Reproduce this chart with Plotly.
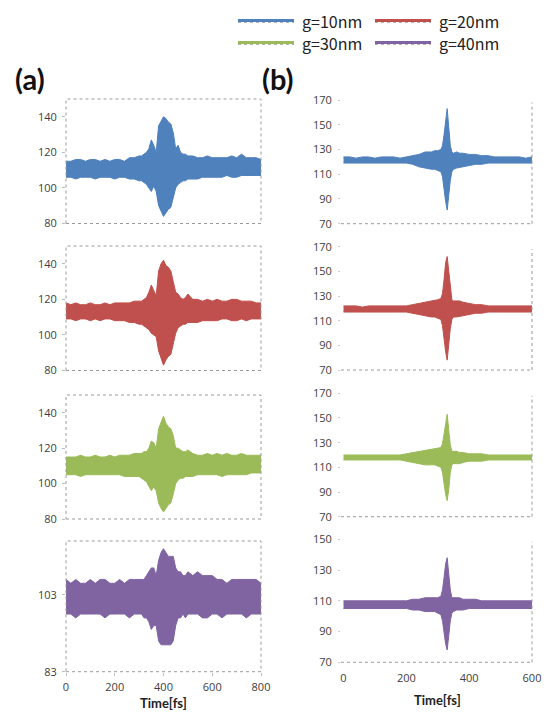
import plotly.graph_objects as go

# ---------------- data (envelopes) ----------------
labels = ["g=10nm", "g=20nm", "g=30nm", "g=40nm"]
colors = ["#4F81BD", "#C0504D", "#9BBB59", "#8064A2"]

# (a) time axis [fs]
t_a = [0, 20, 40, 60, 80, 100, 120, 140, 160, 180, 200, 220, 240, 260, 280, 300,
       310, 320, 330, 340, 350, 360, 370, 380, 390, 400, 410, 420, 430, 440, 450, 460, 470, 480, 490, 500,
       520, 540, 560, 580, 600, 620, 640, 660, 680, 700, 720, 740, 760, 780, 800]

a1_up = [115, 115, 116, 116, 115, 116, 116, 115, 116, 115, 116, 116, 115, 117, 117, 118,
         118, 119, 120, 122, 127, 124, 120, 135, 138, 140, 139, 137, 136, 131, 122, 124, 120, 119, 119, 118,
         118, 117, 117, 118, 117, 117, 117, 117, 118, 117, 119, 117, 117, 117, 116]
a1_lo = [106, 106, 105, 106, 106, 106, 105, 106, 106, 106, 105, 106, 106, 105, 105, 104,
         104, 103, 102, 100, 98, 101, 98, 90, 87, 84, 86, 88, 89, 95, 100, 102, 103, 104, 104, 105,
         105, 105, 106, 106, 106, 106, 106, 107, 106, 106, 107, 107, 107, 107, 107]

a2_up = [118, 117, 118, 117, 117, 118, 117, 117, 118, 117, 118, 118, 118, 118, 119, 119,
         119, 120, 121, 124, 128, 125, 122, 136, 140, 142, 139, 138, 136, 130, 124, 123, 121, 120, 121, 123,
         120, 120, 119, 120, 119, 120, 119, 119, 120, 120, 119, 119, 119, 118, 118]
a2_lo = [109, 109, 108, 109, 109, 108, 109, 108, 109, 109, 108, 108, 108, 107, 107, 106,
         106, 105, 104, 103, 101, 100, 99, 91, 87, 83, 86, 88, 89, 95, 101, 104, 105, 106, 106, 107,
         107, 107, 108, 108, 108, 108, 109, 109, 108, 108, 109, 108, 109, 109, 109]

a3_up = [115, 115, 115, 116, 115, 115, 116, 115, 115, 116, 115, 116, 116, 116, 117, 117,
         117, 118, 118, 120, 124, 123, 120, 131, 135, 138, 134, 132, 131, 127, 120, 120, 119, 118, 118, 119,
         117, 116, 116, 117, 116, 117, 116, 117, 116, 116, 117, 116, 116, 116, 116]
a3_lo = [105, 105, 105, 104, 105, 105, 105, 105, 105, 105, 105, 105, 104, 104, 104, 104,
         103, 102, 101, 99, 96, 98, 96, 89, 86, 84, 86, 88, 89, 94, 100, 102, 103, 103, 104, 104,
         104, 105, 105, 105, 105, 105, 104, 105, 105, 105, 105, 105, 106, 106, 106]

a4_up = [107, 106, 107, 106, 106, 107, 106, 107, 107, 106, 106, 107, 106, 107, 107, 107,
         107, 107, 108, 109, 110, 110, 108, 112, 114, 115, 114, 113, 113, 113, 110, 109, 109, 108, 108, 109,
         108, 109, 108, 108, 108, 107, 107, 106, 107, 107, 107, 107, 107, 107, 106]
a4_lo = [98, 98, 97, 98, 98, 98, 98, 98, 97, 98, 98, 98, 98, 97, 98, 98,
         98, 97, 97, 96, 94, 95, 95, 91, 90, 90, 90, 90, 90, 91, 95, 97, 97, 98, 97, 98,
         98, 98, 97, 97, 98, 98, 97, 98, 98, 98, 98, 97, 98, 98, 98]

# (b) time axis [fs]
t_b = [0, 20, 40, 60, 80, 100, 120, 140, 160, 180, 200, 220, 240, 260, 280,
       290, 300, 310, 315, 320, 325, 330, 335, 340, 345, 350, 360, 370, 380,
       400, 420, 440, 460, 480, 500, 520, 540, 560, 580, 600]

b1_up = [124, 124, 123, 124, 124, 123, 124, 124, 124, 123, 124, 125, 126, 128, 128,
         129, 129, 130, 133, 142, 155, 163, 148, 133, 128, 127, 128, 127, 127,
         126, 126, 125, 125, 124, 124, 124, 124, 124, 123, 124]
b1_lo = [119, 119, 119, 119, 119, 119, 119, 119, 119, 119, 119, 118, 116, 115, 114,
         114, 113, 112, 108, 100, 88, 81, 90, 105, 112, 114, 115, 116, 116,
         117, 118, 118, 119, 119, 119, 119, 119, 119, 119, 119]

b2_up = [122, 122, 122, 121, 122, 122, 122, 122, 122, 122, 122, 123, 124, 125, 126,
         126, 127, 128, 132, 143, 157, 162, 150, 134, 127, 126, 126, 126, 125,
         124, 123, 123, 122, 122, 122, 122, 122, 122, 122, 122]
b2_lo = [117, 117, 117, 117, 117, 117, 117, 117, 117, 117, 117, 116, 115, 114, 113,
         113, 112, 111, 106, 97, 85, 78, 88, 104, 111, 113, 113, 113, 114,
         115, 116, 116, 117, 117, 117, 117, 117, 117, 117, 117]

b3_up = [120, 120, 120, 120, 120, 120, 120, 120, 120, 120, 121, 122, 123, 124, 125,
         125, 126, 126, 129, 138, 148, 153, 140, 128, 123, 123, 123, 122, 122,
         121, 121, 121, 120, 120, 120, 120, 120, 120, 120, 120]
b3_lo = [116, 116, 116, 116, 116, 116, 116, 116, 116, 116, 115, 114, 113, 112, 112,
         112, 111, 110, 106, 97, 88, 83, 92, 106, 112, 113, 113, 113, 114,
         115, 115, 115, 116, 116, 116, 116, 116, 116, 116, 116]

b4_up = [110, 110, 110, 110, 110, 110, 110, 110, 110, 110, 110, 111, 111, 112, 112,
         112, 112, 113, 117, 125, 134, 138, 128, 117, 112, 112, 112, 112, 111,
         111, 111, 110, 110, 110, 110, 110, 110, 110, 110, 110]
b4_lo = [105, 105, 105, 105, 105, 105, 105, 105, 105, 105, 105, 104, 104, 103, 103,
         103, 102, 101, 97, 90, 82, 78, 86, 97, 102, 103, 104, 104, 104,
         105, 105, 105, 105, 105, 105, 105, 105, 105, 105, 105]

a_ticks = [[80, 100, 120, 140], [80, 100, 120, 140], [80, 100, 120, 140], [83, 103]]
a_ranges = [[80, 150], [80, 150], [80, 150], [83, 117]]
b_ticks = [[70, 90, 110, 130, 150, 170]] * 3 + [[70, 90, 110, 130, 150]]
b_ranges = [[70, 170], [70, 170], [70, 170], [70, 150]]
xa_ticks = [0, 200, 400, 600, 800]
xb_ticks = [0, 200, 400, 600]

# ---------------- layout geometry ----------------
W, H = 551, 716
def yd(top, bot):
    return [1 - bot / H, 1 - top / H]

a_dom_y = [yd(99, 223.5), yd(246, 370.5), yd(395, 519), yd(541, 671.7)]
b_dom_y = [yd(100, 223.7), yd(246.7, 370), yd(393.3, 516.7), yd(539.3, 662.3)]
a_dom_x = [66 / W, 261 / W]
b_dom_x = [341 / W, 532 / W]

a_data = [(a1_up, a1_lo), (a2_up, a2_lo), (a3_up, a3_lo), (a4_up, a4_lo)]
b_data = [(b1_up, b1_lo), (b2_up, b2_lo), (b3_up, b3_lo), (b4_up, b4_lo)]

fig = go.Figure()
tickfont = dict(family="Open Sans", size=11, color="#404040")
dotc = "#9a9a9a"
shapes = []

def add_band(t, up, lo, color, sfx):
    xs = list(t) + list(t)[::-1]
    ys = list(up) + list(lo)[::-1]
    fig.add_trace(go.Scatter(
        x=xs, y=ys, mode="lines", fill="toself", fillcolor=color,
        line=dict(color=color, width=1), showlegend=False, hoverinfo="skip",
        xaxis="x" + sfx, yaxis="y" + sfx))

lay = {}
for r in range(4):
    for c in range(2):
        k = 2 * r + c + 1
        sfx = "" if k == 1 else str(k)
        if c == 0:
            up, lo = a_data[r]
            add_band(t_a, up, lo, colors[r], sfx)
            lay["xaxis" + sfx] = dict(
                domain=a_dom_x, anchor="y" + sfx, range=[0, 800], automargin=False,
                tickvals=xa_ticks, showticklabels=(r == 3),
                ticks="outside" if r == 3 else "", ticklen=3, tickcolor="#bbbbbb",
                ticklabelstandoff=2,
                showgrid=False, zeroline=False, showline=False, tickfont=tickfont)
            lay["yaxis" + sfx] = dict(
                domain=a_dom_y[r], anchor="x" + sfx, range=a_ranges[r], automargin=False,
                tickvals=a_ticks[r], ticks="outside", ticklen=3, tickcolor="#bbbbbb",
                ticklabelstandoff=3,
                showgrid=False, zeroline=False, showline=False, tickfont=tickfont)
            shapes.append(dict(type="rect", xref=f"x{sfx} domain", yref=f"y{sfx} domain",
                               x0=0, x1=1, y0=0, y1=1,
                               line=dict(color=dotc, width=1, dash="dot")))
        else:
            up, lo = b_data[r]
            add_band(t_b, up, lo, colors[r], sfx)
            lay["xaxis" + sfx] = dict(
                domain=b_dom_x, anchor="y" + sfx, range=[-8, 600], automargin=False,
                tickvals=xb_ticks, showticklabels=(r == 3), ticks="",
                ticklabelstandoff=8,
                showgrid=False, zeroline=False, showline=False, tickfont=tickfont)
            lay["yaxis" + sfx] = dict(
                domain=b_dom_y[r], anchor="x" + sfx, range=b_ranges[r], automargin=False,
                tickvals=b_ticks[r], ticks="outside", ticklen=2, tickcolor="#cccccc",
                ticklabelstandoff=4,
                showgrid=False, zeroline=False, showline=False, tickfont=tickfont)
            shapes.append(dict(type="line", xref=f"x{sfx} domain", yref=f"y{sfx} domain",
                               x0=0, x1=1, y0=0, y1=0,
                               line=dict(color=dotc, width=1, dash="dot")))
            shapes.append(dict(type="line", xref=f"x{sfx} domain", yref=f"y{sfx} domain",
                               x0=1, x1=1, y0=0, y1=0.98,
                               line=dict(color=dotc, width=1, dash="dot")))

annotations = [
    dict(text="<b>(a)</b>", x=30 / W, y=1 - 79 / H, xref="paper", yref="paper",
         xanchor="center", yanchor="middle",
         showarrow=False, font=dict(family="Lato", size=29, color="#111111")),
    dict(text="<b>(b)</b>", x=278 / W, y=1 - 79 / H, xref="paper", yref="paper",
         xanchor="center", yanchor="middle",
         showarrow=False, font=dict(family="Lato", size=29, color="#111111")),
    dict(text="<b>Time[fs]</b>", x=163 / W, y=1 - 703 / H, xref="paper", yref="paper",
         xanchor="center", yanchor="middle",
         showarrow=False, font=dict(family="Lato", size=13, color="#222222")),
    dict(text="<b>Time[fs]</b>", x=437 / W, y=1 - 700 / H, xref="paper", yref="paper",
         xanchor="center", yanchor="middle",
         showarrow=False, font=dict(family="Lato", size=13, color="#222222")),
]

# legend (drawn as layout decorations: swatch line + label)
leg_pos = [(238, 21), (375, 21), (238, 43), (375, 43)]
for (lx, ly), name, col in zip(leg_pos, labels, colors):
    shapes.append(dict(type="line", xref="paper", yref="paper",
                       x0=lx / W, x1=(lx + 56) / W, y0=1 - (ly + 1.5) / H, y1=1 - (ly + 1.5) / H,
                       line=dict(color="#b0b0b0", width=1, dash="dot")))
    shapes.append(dict(type="line", xref="paper", yref="paper",
                       x0=lx / W, x1=(lx + 56) / W, y0=1 - (ly - 0.5) / H, y1=1 - (ly - 0.5) / H,
                       line=dict(color=col, width=3)))
    annotations.append(dict(text=name, x=(lx + 62) / W, y=1 - ly / H, xref="paper", yref="paper",
                            xanchor="left", yanchor="middle", showarrow=False,
                            font=dict(family="Noto Sans CJK JP", size=16, color="#222222")))

fig.update_layout(
    width=W, height=H, margin=dict(l=0, r=0, t=0, b=0, autoexpand=False),
    paper_bgcolor="white", plot_bgcolor="white", showlegend=False,
    shapes=shapes, annotations=annotations,
    **lay,
)

fig.write_html("out.html")
